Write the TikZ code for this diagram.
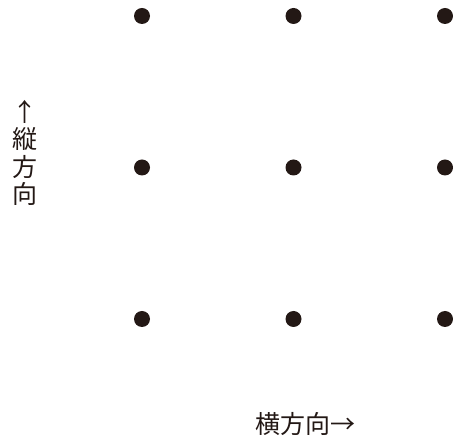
\documentclass[tikz,border=0pt]{standalone}
\usepackage{fontspec}
\usepackage{tikz}
\usetikzlibrary{positioning}
\newfontfamily\jpfont{Noto Sans CJK JP}
\definecolor{inkblack}{HTML}{231815}

\begin{document}
\begin{tikzpicture}[x=1pt,y=-1pt,inkblack]
  \tikzstyle{every dot}=[circle,fill=inkblack,inner sep=0pt,minimum size=16pt]
  \tikzstyle{every label}=[font=\jpfont\fontsize{25}{27.5}\selectfont,text=inkblack]
  \useasboundingbox (0,0) rectangle (453,443);

  \node[every dot] (D11) at (142,16)    {};
  \node[every dot] (D12) at (293.5,16)  {};
  \node[every dot] (D13) at (445,16)    {};
  \node[every dot] (D21) at (142,167.5)   {};
  \node[every dot] (D22) at (293.5,167.5) {};
  \node[every dot] (D23) at (445,167.5)   {};
  \node[every dot] (D31) at (142,319)   {};
  \node[every dot] (D32) at (293.5,319) {};
  \node[every dot] (D33) at (445,319)   {};

  \node[every label,align=center,inner sep=0pt] (vert) at (25,153) {↑\\縦\\方\\向};
  \node[every label,inner sep=0pt] (horiz) at (305,424) {横方向→};
\end{tikzpicture}
\end{document}
